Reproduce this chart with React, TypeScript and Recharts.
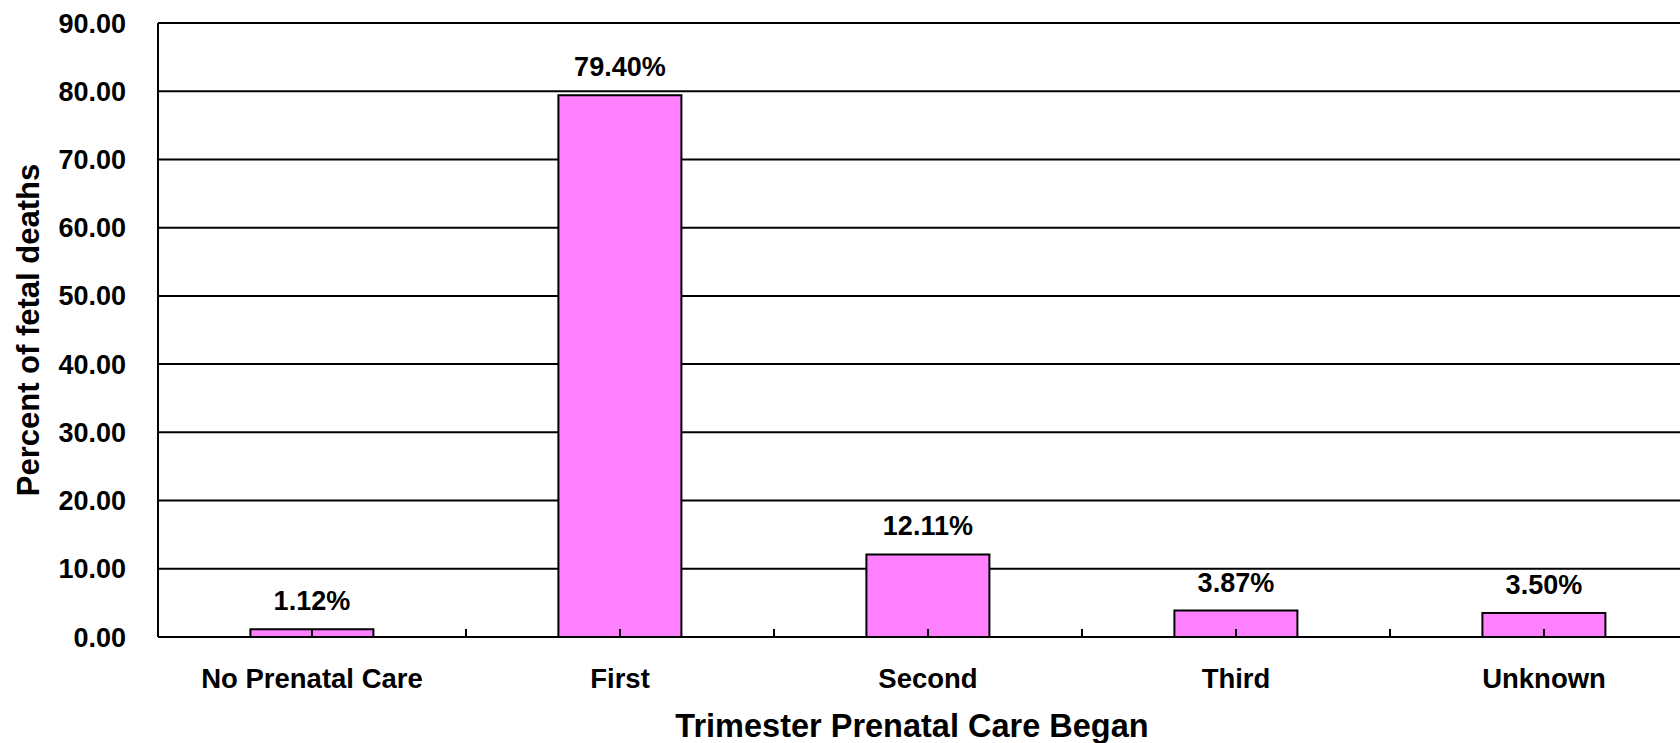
import {Bar, BarChart, CartesianGrid, LabelList, XAxis, YAxis} from 'recharts'
import {JSX} from 'react'

const trimesters = ['No Prenatal Care', 'First', 'Second', 'Third', 'Unknown']
const percents = [1.12, 79.4, 12.11, 3.87, 3.5]
const yTicks = [0, 10, 20, 30, 40, 50, 60, 70, 80, 90]

const data = trimesters.map((name, i) => ({name, value: percents[i]}))

const FONT = '"Liberation Sans", Arial, sans-serif'
const TICK_MARGIN = 31

// x ticks: a short inward mark at the category centre and at the boundary to its right
const XTick = (props: any): JSX.Element => {
	const {x, y, payload} = props
	const axisY = y - TICK_MARGIN
	const half = payload.offset ?? 0
	return (
		<g>
			<line x1={x} x2={x} y1={axisY} y2={axisY - 8} stroke='#000' strokeWidth={2} />
			<line x1={x + half} x2={x + half} y1={axisY} y2={axisY - 8} stroke='#000' strokeWidth={2} />
			<text x={x} y={y} dy='0.71em' textAnchor='middle' fill='#000' fontSize={27.5} fontWeight='bold' fontFamily={FONT}>
				{payload.value}
			</text>
		</g>
	)
}

const App = (): JSX.Element => {
	return (
		<div style={{position: 'fixed', left: 0, top: 0, width: 1680, height: 743, overflow: 'hidden', background: '#fff'}}>
			<BarChart width={1700} height={743} data={data} margin={{top: 23, right: 2, left: 0, bottom: 0}} barCategoryGap='30%'>
				<CartesianGrid vertical={false} stroke='#000' strokeWidth={2} />
				<YAxis
					domain={[0, 90]}
					ticks={yTicks}
					width={158}
					tickLine={false}
					tickSize={0}
					tickMargin={32}
					axisLine={{stroke: '#000', strokeWidth: 2}}
					tickFormatter={(v: number) => v.toFixed(2)}
					tick={{fill: '#000', fontSize: 27, fontWeight: 'bold', fontFamily: FONT}}
					label={{
						value: 'Percent of fetal deaths',
						angle: -90,
						position: 'insideLeft',
						offset: 28,
						style: {textAnchor: 'middle', fill: '#000', fontSize: 31, fontWeight: 'bold', fontFamily: FONT},
					}}
				/>
				<Bar dataKey='value' fill='#FF80FF' stroke='#000' strokeWidth={2} isAnimationActive={false}>
					<LabelList
						dataKey='value'
						position='top'
						offset={19}
						formatter={(v: any) => `${Number(v).toFixed(2)}%`}
						style={{fill: '#000', fontSize: 27, fontWeight: 'bold', fontFamily: FONT}}
					/>
				</Bar>
				<XAxis
					dataKey='name'
					height={106}
					tickLine={false}
					tickSize={0}
					tickMargin={TICK_MARGIN}
					interval={0}
					axisLine={{stroke: '#000', strokeWidth: 2}}
					tick={<XTick />}
					label={{
						value: 'Trimester Prenatal Care Began',
						position: 'insideBottom',
						offset: 6,
						dx: -16,
						style: {fill: '#000', fontSize: 32.5, fontWeight: 'bold', fontFamily: FONT},
					}}
				/>
			</BarChart>
		</div>
	)
}

export default App
